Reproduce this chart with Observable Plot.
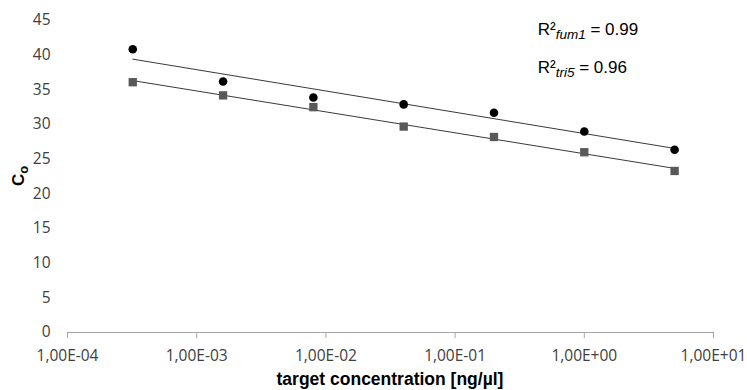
<!DOCTYPE html>
<html><head><meta charset="utf-8">
<script src="https://cdn.jsdelivr.net/npm/d3@7"></script>
<script src="https://cdn.jsdelivr.net/npm/@observablehq/plot@0.6"></script>
<style>body{margin:0;background:#fff}</style>
</head><body><div id="chart"></div>
<script>
const concentrations = [3.2e-4, 1.6e-3, 8e-3, 4e-2, 2e-1, 1, 5];
const fum1 = [40.85, 36.2, 33.9, 32.9, 31.7, 29.0, 26.35];
const tri5 = [36.1, 34.2, 32.5, 29.7, 28.2, 26.0, 23.3];
const xTicks = [1e-4, 1e-3, 1e-2, 1e-1, 1, 10];
const xTickLabels = ["1,00E-04", "1,00E-03", "1,00E-02", "1,00E-01", "1,00E+00", "1,00E+01"];
const yTicks = [0, 5, 10, 15, 20, 25, 30, 35, 40, 45];
const r2Names = ["fum1", "tri5"];
const r2Values = ["0.99", "0.96"];
const r2X = [0.44, 0.44];
const r2Y = [42.9, 37.3];

const fumData = concentrations.map((x, i) => ({x, y: fum1[i]}));
const triData = concentrations.map((x, i) => ({x, y: tri5[i]}));

// least-squares fit on log10(x)
function trend(data) {
  const lx = data.map(d => Math.log10(d.x));
  const mx = d3.mean(lx), my = d3.mean(data, d => d.y);
  let sxy = 0, sxx = 0;
  lx.forEach((v, i) => { sxy += (v - mx) * (data[i].y - my); sxx += (v - mx) ** 2; });
  const b = sxy / sxx, a = my - b * mx;
  const ends = [data[0].x, data[data.length - 1].x];
  return ends.map(x => ({x, y: a + b * Math.log10(x)}));
}

const xLabelOf = d => {
  const i = xTicks.findIndex(t => Math.abs(Math.log10(t) - Math.log10(d)) < 1e-6);
  return i >= 0 ? xTickLabels[i] : "";
};

const plot = Plot.plot({
  width: 747,
  height: 390,
  marginLeft: 67,
  marginRight: 34,
  marginTop: 20,
  marginBottom: 58,
  style: {fontFamily: "'Open Sans', sans-serif", fontSize: "15px", background: "#fff"},
  x: {type: "log", domain: [1e-4, 10]},
  y: {domain: [0, 45]},
  marks: [
    Plot.axisY(yTicks, {tickSize: 0, tickPadding: 17, color: "#404040", label: null, fontSize: 15.5}),
    Plot.axisX(xTicks, {tickSize: 6, color: "#a6a6a6", tickFormat: () => "", label: null}),
    Plot.axisX(xTicks, {tickSize: 0, tickPadding: 17, color: "#404040", tickFormat: xLabelOf, label: null, fontSize: 15.5}),
    Plot.ruleY([0], {stroke: "#a6a6a6"}),
    Plot.line(trend(fumData), {x: "x", y: "y", stroke: "#3a3a3a", strokeWidth: 1}),
    Plot.line(trend(triData), {x: "x", y: "y", stroke: "#3a3a3a", strokeWidth: 1}),
    Plot.dot(fumData, {x: "x", y: "y", r: 4.3, fill: "#000"}),
    Plot.dot(triData, {x: "x", y: "y", r: 4.7, symbol: "square", fill: "#595959"})
  ]
});

const svg = d3.select(plot);
const sx = plot.scale("x"), sy = plot.scale("y");

// y label C_o
const yl = svg.append("text")
  .attr("transform", `translate(24,${(sy.apply(0) + sy.apply(45)) / 2}) rotate(-90)`)
  .attr("text-anchor", "middle")
  .style("font-family", "'Liberation Sans', Arial, sans-serif")
  .style("font-weight", "bold")
  .style("font-size", "17px")
  .attr("fill", "#000");
yl.append("tspan").text("C");
yl.append("tspan").attr("dy", "0.3em").style("font-size", "13px").text("o");

// x label
svg.append("text")
  .attr("x", (sx.apply(1e-4) + sx.apply(10)) / 2)
  .attr("y", 385)
  .attr("text-anchor", "middle")
  .style("font-family", "'Liberation Sans', Arial, sans-serif")
  .style("font-weight", "bold")
  .style("font-size", "17.5px")
  .attr("fill", "#000")
  .text("target concentration [ng/µl]");

// R² annotations
r2Names.forEach((n, i) => {
  const t = svg.append("text")
    .attr("x", sx.apply(r2X[i]))
    .attr("y", sy.apply(r2Y[i]))
    .attr("text-anchor", "start")
    .style("font-family", "'Liberation Sans', Arial, sans-serif")
    .style("font-size", "17px")
    .attr("fill", "#000");
  t.append("tspan").text("R²");
  t.append("tspan").attr("dy", 4).style("font-size", "13.5px").style("font-style", "italic").text(n);
  t.append("tspan").attr("dy", -4).text(" = " + r2Values[i]);
});

document.getElementById("chart").appendChild(plot);
</script>
</body></html>
